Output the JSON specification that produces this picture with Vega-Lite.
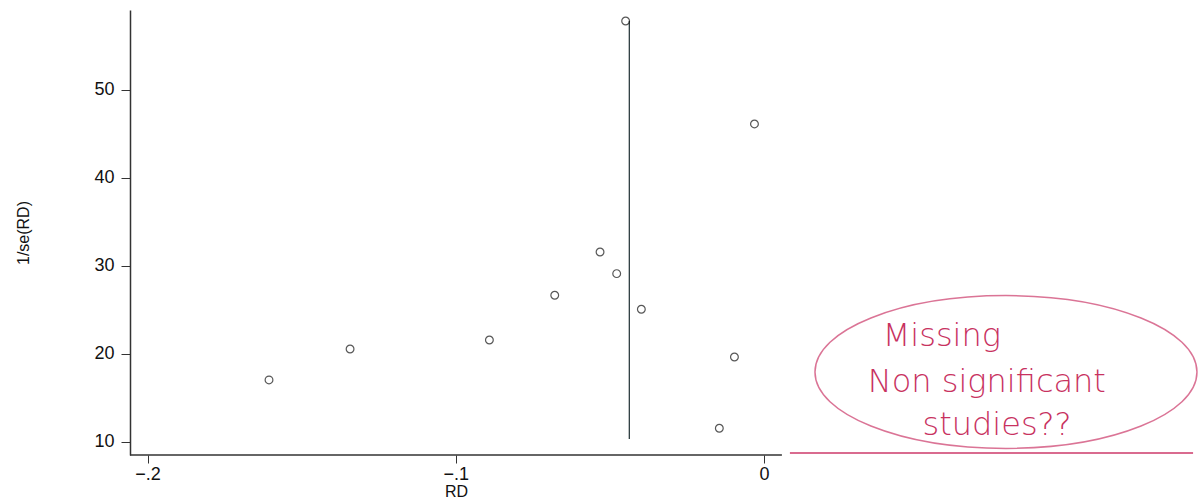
{
  "$schema": "https://vega.github.io/schema/vega-lite/v6.json",
  "width": 1068,
  "height": 445,
  "autosize": {"type": "none"},
  "padding": {"left": 130, "top": 10, "right": 0, "bottom": 44},
  "background": "white",
  "config": {
    "view": {"stroke": null},
    "font": "Liberation Sans",
    "axis": {"grid": false, "labelColor": "#111", "titleColor": "#111", "tickColor": "#333", "domainColor": "#333", "titleFontWeight": "normal", "labelFontSize": 18, "titleFontSize": 16}
  },
  "datasets": {
    "studies": [
      {"x": -0.1606, "y": 17.05},
      {"x": -0.1343, "y": 20.57},
      {"x": -0.0891, "y": 21.59},
      {"x": -0.0679, "y": 26.67},
      {"x": -0.0532, "y": 31.59},
      {"x": -0.0478, "y": 29.13},
      {"x": -0.0449, "y": 57.84},
      {"x": -0.0398, "y": 25.08},
      {"x": -0.0031, "y": 46.14},
      {"x": -0.0096, "y": 19.66},
      {"x": -0.0145, "y": 11.56}
    ],
    "pooled": [{"x": -0.0437, "y": 10.34, "y2": 57.84}],
    "xaxisline": [{"x": -0.2057, "x2": 0.0058, "y": 8.52}],
    "redline": [{"x": 0.0084, "x2": 0.1392, "y": 8.75}],
    "ellipse": [{"x": 0.0785, "y": 17.95}],
    "notes": [
      {"x": 0.0577, "y": 22.0, "label": "Missing"},
      {"x": 0.0723, "y": 16.8, "label": "Non significant"},
      {"x": 0.0756, "y": 11.9, "label": "studies??"}
    ]
  },
  "layer": [
    {
      "data": {"name": "xaxisline"},
      "mark": {"type": "rule", "color": "#333", "strokeWidth": 1.5},
      "encoding": {
        "x": {"field": "x", "type": "quantitative", "scale": {"domain": [-0.2057, 0.1408], "nice": false, "zero": false},
          "axis": {"values": [-0.2, -0.1, 0], "domain": false, "tickSize": 8, "labelPadding": 2,
            "labelExpr": "datum.value == 0 ? '0' : replace(format(datum.value, '.1f'), '0.', '.')",
            "title": "RD", "titleX": 326, "titlePadding": 0}},
        "x2": {"field": "x2"},
        "y": {"field": "y", "type": "quantitative", "scale": {"domain": [8.52, 59.09], "nice": false, "zero": false},
          "axis": {"values": [10, 20, 30, 40, 50], "domain": true, "domainWidth": 1.5, "tickSize": 9, "labelPadding": 7,
            "title": "1/se(RD)", "titlePadding": 62}}
      }
    },
    {
      "data": {"name": "pooled"},
      "mark": {"type": "rule", "color": "#2e3d40", "strokeWidth": 1.3},
      "encoding": {
        "x": {"field": "x", "type": "quantitative"},
        "y": {"field": "y", "type": "quantitative"},
        "y2": {"field": "y2"}
      }
    },
    {
      "data": {"name": "studies"},
      "mark": {"type": "point", "shape": "circle", "filled": false, "color": "#111", "size": 60, "strokeWidth": 1.2},
      "encoding": {
        "x": {"field": "x", "type": "quantitative"},
        "y": {"field": "y", "type": "quantitative"}
      }
    },
    {
      "data": {"name": "redline"},
      "mark": {"type": "rule", "color": "#cc3a6a", "strokeWidth": 1.5},
      "encoding": {
        "x": {"field": "x", "type": "quantitative"},
        "x2": {"field": "x2"},
        "y": {"field": "y", "type": "quantitative"}
      }
    },
    {
      "data": {"name": "ellipse"},
      "mark": {"type": "point", "filled": false, "color": "#cc3a6a", "strokeWidth": 1.5,
        "shape": "M -1 0 A 1 0.4 0 1 1 1 0 A 1 0.4 0 1 1 -1 0 Z", "size": 145924},
      "encoding": {
        "x": {"field": "x", "type": "quantitative"},
        "y": {"field": "y", "type": "quantitative"}
      }
    },
    {
      "data": {"name": "notes"},
      "mark": {"type": "text", "color": "#c8325f", "fontSize": 32, "font": "DejaVu Sans", "fontWeight": 300, "align": "center", "baseline": "middle"},
      "encoding": {
        "x": {"field": "x", "type": "quantitative"},
        "y": {"field": "y", "type": "quantitative"},
        "text": {"field": "label"}
      }
    }
  ]
}
